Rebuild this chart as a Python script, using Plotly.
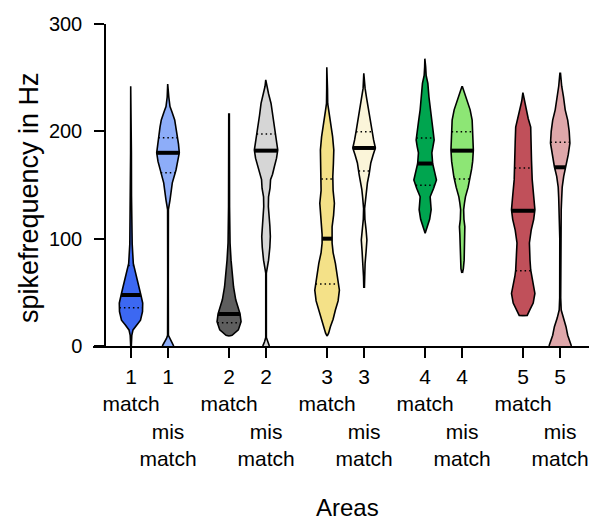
import numpy as np
import plotly.graph_objects as go

# Areas 1-5, each as "match" / "mismatch"
AREAS = ["1", "1", "2", "2", "3", "3", "4", "4", "5", "5"]
CONDITIONS = ["match", "mismatch"] * 5
FILL_COLORS = ["#3c68f2", "#8dadf9", "#5e5e5e", "#d6d6d6", "#f4e188",
               "#fbf5d9", "#00a54f", "#8de675", "#c0505a", "#dfa7aa"]

# violin outlines: y levels (Hz) and relative density (half width)
V1_Y = [0, 10, 15, 20, 24, 32, 40, 47, 55, 65, 77, 95, 115, 140, 180, 242]
V1_D = [0.3, 0.8, 2, 6, 9.5, 11.5, 11.7, 10, 8, 5, 2.3, 1.2, 0.6, 0.5, 0.4, 0.3]
V2_Y = [0, 3, 7, 10, 60, 127, 136, 152, 164, 172, 180, 188, 195, 204, 210.6, 218, 223, 232, 244]
V2_D = [5.7, 4, 1.5, 0.4, 0.3, 0.4, 2, 4.3, 8, 10, 11.3, 10.5, 9.5, 8, 6.7, 4, 2, 0.8, 0.3]
V3_Y = [9.3, 10, 15, 22.7, 30, 33.5, 43, 55, 64.6, 80, 96, 130, 216]
V3_D = [0, 3, 9.3, 12, 11, 10, 6.7, 4.5, 3.3, 2, 1, 0.5, 0.3]
V4_Y = [0, 4, 8, 68, 80, 92, 102, 112, 122, 130, 139, 147, 155, 160, 167, 175, 182.6,
        190, 197, 204, 215, 226, 235, 242, 248]
V4_D = [3.3, 1.5, 0.3, 0.3, 2.5, 3.8, 4.3, 3.8, 2.8, 2.3, 2.5, 4, 4.5, 6.5, 8.3, 10.5, 11.7,
        10.5, 9.5, 8.3, 6.5, 5, 2.5, 1, 0.3]
V5_Y = [9.3, 12, 18, 25, 33.5, 42, 52, 62, 70, 77, 87, 96, 104, 111, 122, 133, 145,
        157.7, 170, 182.6, 195, 210.5, 220, 226, 240, 259.6]
V5_D = [0, 1.5, 3.3, 6, 8.3, 11, 12.3, 11, 9.5, 8.3, 6, 5, 5, 5, 6.5, 7.3, 6,
        5.7, 6.3, 6.7, 5.5, 3.3, 1.5, 0.6, 0.4, 0.3]
V6_Y = [54, 65, 77, 88, 98.8, 108, 118, 128, 139, 146, 152, 160, 170.5, 178, 184.5,
        192, 200, 210.5, 220, 232, 240, 254]
V6_D = [0.3, 0.6, 1, 2, 2.8, 2, 0.8, 0.5, 1.5, 2.3, 3.3, 5, 6.7, 9, 11.3,
        9.5, 8, 5.7, 4, 2.3, 1, 0.3]
V7_Y = [105, 110, 118, 127, 133, 139, 147, 154.7, 162, 170, 180, 186, 192, 200, 210,
        220, 232, 244.7, 252, 260, 267.7]
V7_D = [0, 2, 4.5, 6, 5.5, 5, 8.5, 11.3, 9.5, 7.5, 6.7, 8, 9, 8, 6.5,
        5, 3.8, 2.7, 1, 0.5, 0.3]
V8_Y = [68, 72, 80, 88, 96, 104, 111, 118, 127, 133, 139, 148, 157.7, 165, 172, 182.6,
        192, 200, 210.5, 220, 229, 236, 241.6]
V8_D = [0.3, 1.2, 2, 2.3, 2, 2.3, 2.7, 1.8, 1.5, 2.3, 3.3, 6, 8.3, 9.5, 10.5, 11.2,
        10.8, 10.5, 10, 8, 5, 2.5, 0.3]
V9_Y = [28.3, 28.5, 33.5, 40, 49, 58, 65, 70.8, 80, 96, 108, 118, 127, 140, 155, 173,
        190, 204, 212, 220, 228, 236]
V9_D = [0, 4, 6.5, 10, 11.7, 10, 8.3, 7.5, 6.8, 6.2, 8, 10.5, 11.7, 10.5, 9, 8.3,
        8, 7.5, 5, 3.3, 1.5, 0.3]
V10_Y = [0, 5, 10, 18, 26, 33.5, 45, 100, 127, 138, 148, 158, 167, 178, 189, 200,
         210.5, 220, 232, 242, 254]
V10_D = [11.2, 9, 7.5, 5.8, 3, 1, 0.5, 0.4, 1, 1.5, 2, 3.5, 5.8, 8, 9.7, 9,
         7.5, 5, 3.3, 1.5, 0.3]

MEDIANS = [47.5, 180, 29.8, 182, 100, 184.5, 170, 182, 126, 166.5]
Q1 = [35.7, 161.5, 21.7, None, 57.8, 163, 149.7, 155.6, 70, None]
Q3 = [75, 194, None, 197.5, 155.6, 199.7, 193.8, 199.7, 165.8, 189.8]

PROFILES = [(V1_Y, V1_D), (V2_Y, V2_D), (V3_Y, V3_D), (V4_Y, V4_D), (V5_Y, V5_D),
            (V6_Y, V6_D), (V7_Y, V7_D), (V8_Y, V8_D), (V9_Y, V9_D), (V10_Y, V10_D)]

GROUP_STEP = 2.65        # distance between areas (in units of pair spacing)
PX_PER_UNIT = 37.0
WIDTH_SCALE = 1 / PX_PER_UNIT   # density unit -> x units
FONT = "Liberation Sans, Arial, sans-serif"

fig = go.Figure()
positions = []
labels = []
for i, ((ys, ds), color) in enumerate(zip(PROFILES, FILL_COLORS)):
    xc = (i // 2) * GROUP_STEP + (i % 2)
    positions.append(xc)
    ys = np.array(ys, dtype=float)
    hw = np.array(ds, dtype=float) * WIDTH_SCALE
    xs = np.concatenate([xc + hw, (xc - hw)[::-1]])
    yy = np.concatenate([ys, ys[::-1]])
    fig.add_trace(go.Scatter(
        x=xs, y=yy, mode="lines", fill="toself", fillcolor=color,
        line=dict(color="black", width=1.6), hoverinfo="skip", showlegend=False
    ))
    # median and quartiles span the violin width at that level
    for val, dash, lw in [(MEDIANS[i], "solid", 4), (Q1[i], "1.5px,3px", 1.5),
                          (Q3[i], "1.5px,3px", 1.5)]:
        if val is None:
            continue
        w = np.interp(val, ys, hw)
        fig.add_trace(go.Scatter(
            x=[xc - w, xc + w], y=[val, val], mode="lines",
            line=dict(color="black", width=lw, dash=dash),
            hoverinfo="skip", showlegend=False
        ))
    if CONDITIONS[i] == "match":
        labels.append(f"{AREAS[i]}<br>match")
    else:
        labels.append(f"{AREAS[i]}<br> <br>mis<br>match")

# page has an 8px body margin, so the figure is a bit smaller
W, H = 589, 512
left, right, top, bottom = 85, 7, 16, 174
plot_w = W - left - right
plot_h = H - top - bottom
x0 = -38 / PX_PER_UNIT

fig.update_layout(
    width=W, height=H,
    margin=dict(l=left, r=right, t=top, b=bottom),
    plot_bgcolor="white", paper_bgcolor="white",
    font=dict(family=FONT, color="black", size=21),
    showlegend=False,
    xaxis=dict(
        range=[x0, x0 + plot_w / PX_PER_UNIT],
        tickvals=positions, ticktext=labels, tickangle=0,
        showline=True, linecolor="black", linewidth=1.5,
        ticks="outside", ticklen=10, tickwidth=1.5, tickcolor="black",
        showgrid=False, zeroline=False,
        tickfont=dict(size=21), ticklabelstandoff=1,
        automargin=False,
    ),
    yaxis=dict(
        range=[0, 300], tickvals=[0, 100, 200, 300],
        anchor="free", position=12 / plot_w,
        showline=True, linecolor="black", linewidth=1.5,
        ticks="outside", ticklen=10, tickwidth=1.5, tickcolor="black",
        showgrid=False, zeroline=False,
        tickfont=dict(size=20), ticklabelstandoff=8,
        automargin=False,
    ),
    annotations=[
        dict(text="spikefrequency in Hz", textangle=-90, font=dict(size=27),
             xref="paper", yref="paper", x=(21 - left) / plot_w,
             y=(top + plot_h - 190) / plot_h,
             xanchor="center", yanchor="middle", showarrow=False),
        dict(text="Areas", font=dict(size=24),
             xref="paper", yref="paper", x=(339 - left) / plot_w,
             y=(top + plot_h - 499) / plot_h,
             xanchor="center", yanchor="middle", showarrow=False),
    ],
)

fig.write_html("out.html")
